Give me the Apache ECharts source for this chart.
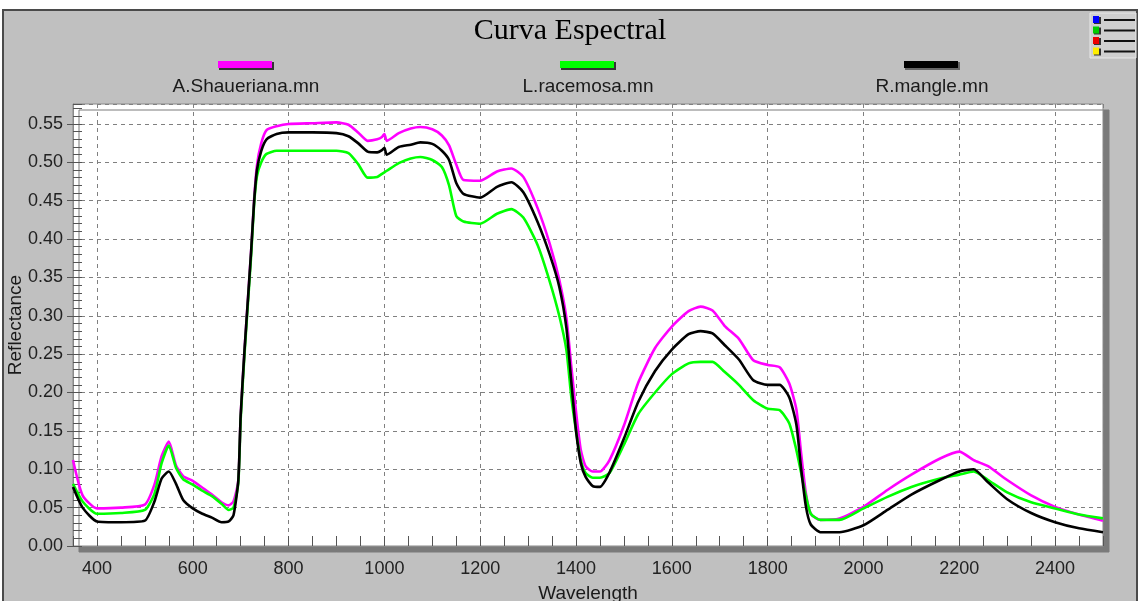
<!DOCTYPE html>
<html>
<head>
<meta charset="utf-8">
<script src="https://cdn.jsdelivr.net/npm/echarts@6/dist/echarts.min.js"></script>
<style>html,body{margin:0;padding:0;background:#fff;}#c{width:1140px;height:601px;}</style>
</head>
<body>
<div id="c"></div>
<script>
const titleText = 'Curva Espectral';
const xName = 'Wavelength';
const yName = 'Reflectance';
const seriesNames = ['A.Shaueriana.mn', 'L.racemosa.mn', 'R.mangle.mn'];
const seriesColors = ['#ff00ff', '#00ff00', '#000000'];

const wavelengths = [
  350, 370, 400, 450, 500, 520, 535, 550, 565, 580,
  600, 620, 640, 660, 675, 685, 695, 700, 708, 715,
  722, 728, 734, 743, 754, 775, 800, 850, 900, 925,
  945, 965, 985, 995, 1000, 1005, 1030, 1055, 1075, 1100,
  1120, 1135, 1150, 1165, 1200, 1235, 1265, 1290, 1320, 1345,
  1365, 1380, 1390, 1400, 1410, 1420, 1435, 1450, 1470, 1500,
  1530, 1565, 1600, 1635, 1660, 1685, 1710, 1740, 1770, 1800,
  1825, 1845, 1860, 1870, 1880, 1890, 1910, 1950, 2000, 2050,
  2100, 2160, 2200, 2230, 2260, 2300, 2350, 2400, 2450, 2500
];
const shaueriana = [
  0.112, 0.066, 0.049, 0.050, 0.054, 0.080, 0.117, 0.136, 0.105, 0.091,
  0.085, 0.076, 0.067, 0.057, 0.053, 0.058, 0.085, 0.170, 0.255, 0.320,
  0.386, 0.451, 0.496, 0.525, 0.542, 0.547, 0.550, 0.551, 0.552, 0.549,
  0.539, 0.528, 0.530, 0.533, 0.537, 0.528, 0.538, 0.544, 0.546, 0.543,
  0.535, 0.522, 0.497, 0.477, 0.476, 0.488, 0.492, 0.481, 0.440, 0.394,
  0.347, 0.297, 0.235, 0.175, 0.125, 0.104, 0.097, 0.097, 0.112, 0.157,
  0.213, 0.258, 0.286, 0.306, 0.312, 0.307, 0.287, 0.270, 0.242, 0.236,
  0.233, 0.212, 0.178, 0.120, 0.068, 0.042, 0.034, 0.036, 0.051, 0.073,
  0.093, 0.114, 0.123, 0.112, 0.104, 0.086, 0.066, 0.051, 0.041, 0.033
];
const racemosa = [
  0.081, 0.058, 0.042, 0.043, 0.047, 0.068, 0.108, 0.131, 0.102, 0.087,
  0.080, 0.072, 0.065, 0.055, 0.047, 0.050, 0.082, 0.165, 0.250, 0.315,
  0.380, 0.445, 0.482, 0.500, 0.511, 0.515, 0.515, 0.515, 0.515, 0.512,
  0.498, 0.480, 0.481, 0.485, 0.487, 0.489, 0.499, 0.505, 0.507, 0.503,
  0.494, 0.470, 0.430, 0.423, 0.420, 0.433, 0.439, 0.428, 0.392, 0.345,
  0.300, 0.255, 0.195, 0.150, 0.112, 0.095, 0.089, 0.089, 0.095, 0.132,
  0.172, 0.200, 0.224, 0.238, 0.240, 0.240, 0.227, 0.210, 0.190, 0.179,
  0.177, 0.160, 0.125, 0.095, 0.065, 0.042, 0.034, 0.034, 0.049, 0.064,
  0.077, 0.088, 0.093, 0.097, 0.086, 0.070, 0.057, 0.049, 0.041, 0.036
];
const mangle = [
  0.077, 0.050, 0.032, 0.031, 0.033, 0.058, 0.088, 0.097, 0.081, 0.060,
  0.049, 0.042, 0.037, 0.031, 0.032, 0.040, 0.085, 0.170, 0.255, 0.320,
  0.386, 0.448, 0.490, 0.515, 0.530, 0.537, 0.539, 0.539, 0.538, 0.534,
  0.525, 0.514, 0.513, 0.516, 0.519, 0.510, 0.520, 0.523, 0.526, 0.524,
  0.515, 0.503, 0.473, 0.459, 0.454, 0.468, 0.474, 0.461, 0.422, 0.380,
  0.338, 0.284, 0.215, 0.150, 0.108, 0.090, 0.078, 0.077, 0.096, 0.140,
  0.188, 0.228, 0.256, 0.276, 0.280, 0.277, 0.262, 0.243, 0.216, 0.210,
  0.210, 0.194, 0.158, 0.100, 0.051, 0.028, 0.018, 0.018, 0.027, 0.047,
  0.067, 0.086, 0.097, 0.100, 0.083, 0.061, 0.043, 0.031, 0.023, 0.018
];
const seriesValues = [shaueriana, racemosa, mangle];

const xMin = 350, xMax = 2500;
const yMin = 0, yMax = 0.576;

const chart = echarts.init(document.getElementById('c'), null, {renderer: 'canvas'});

const FONT = 'Liberation Sans';
const legendCenters = [246, 588, 932];
const graphic = [
  {type: 'rect', z: -10, shape: {x: 3, y: 10, width: 1134, height: 600},
   style: {fill: '#c0c0c0', stroke: '#4a4a4a', lineWidth: 2}},
  {type: 'rect', shape: {x: 1090, y: 13, width: 46, height: 45},
   style: {fill: '#cfcfcf', stroke: '#e8e8e8', lineWidth: 1}}
];
const iconColors = ['#0000ff', '#00cc00', '#ee0000', '#ffee00'];
iconColors.forEach((c, i) => {
  const yy = 16 + i * 10.5;
  graphic.push({type: 'rect', shape: {x: 1094, y: yy + 1, width: 7, height: 7}, style: {fill: '#333'}});
  graphic.push({type: 'rect', shape: {x: 1093, y: yy, width: 6, height: 7}, style: {fill: c}});
  graphic.push({type: 'rect', shape: {x: 1104, y: yy + 3, width: 31, height: 2}, style: {fill: '#111'}});
});
seriesNames.forEach((n, i) => {
  const cx = legendCenters[i];
  graphic.push({type: 'rect', shape: {x: cx - 27, y: 62, width: 55, height: 8}, style: {fill: i === 2 ? '#666' : '#333'}});
  graphic.push({type: 'rect', shape: {x: cx - 28, y: 61, width: 54, height: 7}, style: {fill: seriesColors[i]}});
  graphic.push({type: 'text', x: cx, y: 87, style: {text: n, font: '19px "' + FONT + '"', fill: '#1a1a1a', textAlign: 'center', textVerticalAlign: 'middle'}});
});

const series = seriesNames.map((n, i) => ({
  name: n, type: 'line', showSymbol: false, symbol: 'none', smooth: 0.2,
  data: wavelengths.map((w, k) => [w, seriesValues[i][k]]),
  lineStyle: {color: seriesColors[i], width: 2.6},
  itemStyle: {color: seriesColors[i]},
  z: 3 + i, animation: false
}));

const option = {
  backgroundColor: '#ffffff',
  animation: false,
  title: {text: titleText, left: 'center', top: 11,
    textStyle: {fontFamily: 'Liberation Serif', fontSize: 30, fontWeight: 'normal', color: '#000'}},
  graphic: graphic,
  grid: {left: 73, right: 37, top: 104, bottom: 55, show: true, backgroundColor: '#fff',
    containLabel: false, outerBoundsMode: 'none',
    borderColor: '#8a8a8a', borderWidth: 1,
    shadowColor: '#7a7a7a', shadowOffsetX: 6, shadowOffsetY: 6, shadowBlur: 0},
  xAxis: [
    {type: 'value', min: xMin, max: xMax, splitNumber: 10,
     name: xName, nameLocation: 'middle', nameGap: 38, nameMoveOverlap: false,
     nameTextStyle: {fontFamily: FONT, fontSize: 19, color: '#1a1a1a'},
     axisLine: {show: true, lineStyle: {color: '#8a8a8a'}},
     axisTick: {show: false},
     axisLabel: {fontFamily: FONT, fontSize: 18, color: '#222', margin: 14,
       showMinLabel: false, showMaxLabel: false, formatter: v => String(v)},
     splitLine: {show: true, lineStyle: {color: '#808080', type: [4, 4], width: 1}}},
    {type: 'value', min: xMin, max: xMax, interval: 50, position: 'bottom',
     axisLine: {show: false}, axisLabel: {show: false}, splitLine: {show: false},
     axisTick: {show: true, inside: true, length: 10, lineStyle: {color: '#555', width: 1}}}
  ],
  yAxis: [
    {type: 'value', min: yMin, max: yMax, interval: 0.05,
     name: yName, nameLocation: 'middle', nameGap: 48, nameMoveOverlap: false,
     nameTextStyle: {fontFamily: FONT, fontSize: 19, color: '#1a1a1a'},
     axisLine: {show: true, lineStyle: {color: '#8a8a8a'}},
     axisTick: {show: true, length: 6, lineStyle: {color: '#555'}},
     axisLabel: {fontFamily: FONT, fontSize: 18, color: '#222', margin: 10,
       showMaxLabel: false, formatter: v => v.toFixed(2)},
     splitLine: {show: true, lineStyle: {color: '#808080', type: [4, 4], width: 1}}},
    {type: 'value', min: yMin, max: yMax, interval: 0.01, position: 'left',
     axisLine: {show: false}, axisLabel: {show: false}, splitLine: {show: false},
     axisTick: {show: true, inside: true, length: 9, lineStyle: {color: '#555', width: 1}}}
  ],
  series: series
};
chart.setOption(option);
</script>
</body>
</html>
